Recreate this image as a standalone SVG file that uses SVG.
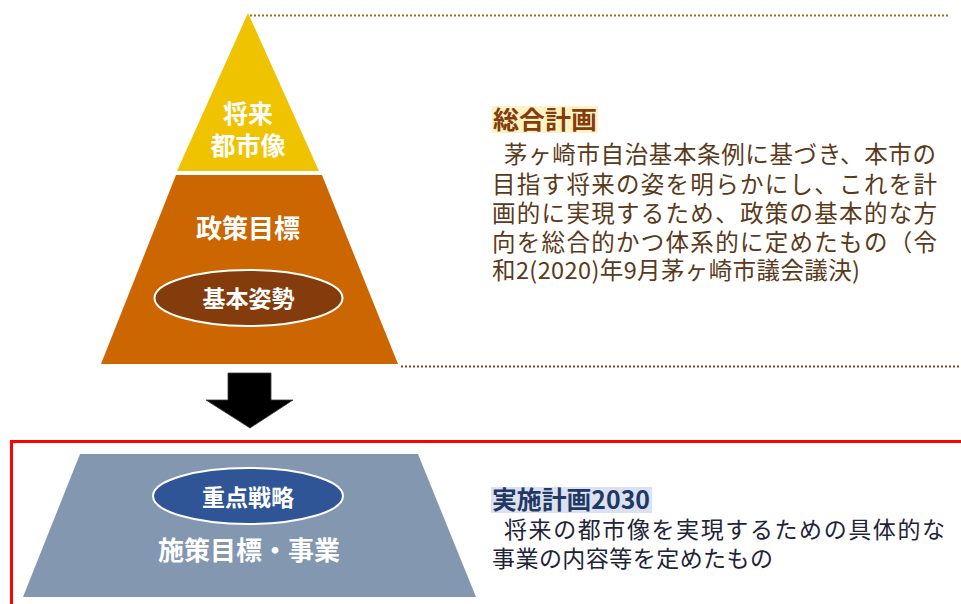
<svg xmlns="http://www.w3.org/2000/svg" width="961" height="604" viewBox="0 0 961 604">
<style>
text{font-family:"Noto Sans CJK JP","Noto Sans",sans-serif;}
.w{fill:#fff;font-weight:bold;text-anchor:middle;}
.body1{fill:#5A3A1A;font-size:23.5px;}
.body2{fill:#1E2438;font-size:23px;}
.dot{fill:none;stroke-width:2;stroke-dasharray:2 2;}
</style>
<rect width="961" height="604" fill="#fff"/>
<g id="guides">
<line class="dot" x1="250" y1="15.5" x2="949" y2="15.5" stroke="#8C7416"/>
<line class="dot" x1="401" y1="366.5" x2="961" y2="366.5" stroke="#8A4516"/>
</g>
<g id="vision">
<polygon points="248,13 319,171 177,171" fill="#F0C300"/>
<text class="w" x="248" y="123" font-size="25">将来</text>
<text class="w" x="248" y="155" font-size="25">都市像</text>
</g>
<g id="policy">
<polygon points="176,175 322,175 398,364 101,364" fill="#CC6600"/>
<text class="w" x="248" y="238" font-size="26">政策目標</text>
</g>
<g id="basic">
<ellipse cx="248.5" cy="298" rx="94" ry="28" fill="#843C0C" stroke="#fff" stroke-width="2"/>
<text class="w" x="248.5" y="307" font-size="23">基本姿勢</text>
</g>
<g id="connectors">
<polygon points="228,373 271,373 271,400 293,400 250,428 206,400 228,400" fill="#000" stroke="#3a3a3a" stroke-width="0.8"/>
</g>
<g id="frame">
<rect x="11.5" y="441.5" width="960" height="170" fill="none" stroke="#FF0000" stroke-width="3"/>
</g>
<g id="measures">
<polygon points="80,454 418,454 476,597 23,597" fill="#8497B0"/>
<text class="w" x="249" y="560" font-size="26">施策目標・事業</text>
</g>
<g id="priority">
<ellipse cx="248" cy="496" rx="95" ry="28" fill="#2F5597" stroke="#fff" stroke-width="2"/>
<text class="w" x="248" y="506" font-size="23">重点戦略</text>
</g>
<g id="general-plan">
<rect x="492" y="106" width="106" height="27" fill="#FFF3C4"/>
<text x="493" y="129" font-size="25" font-weight="bold" fill="#843C0C" textLength="104" lengthAdjust="spacingAndGlyphs">総合計画</text>
<text class="body1" x="504" y="163" textLength="432">茅ヶ崎市自治基本条例に基づき、本市の</text>
<text class="body1" x="492" y="193" textLength="445">目指す将来の姿を明らかにし、これを計</text>
<text class="body1" x="492" y="222" textLength="445">画的に実現するため、政策の基本的な方</text>
<text class="body1" x="492" y="251" textLength="445">向を総合的かつ体系的に定めたもの（令</text>
<text class="body1" x="492" y="279" textLength="368">和2(2020)年9月茅ヶ崎市議会議決)</text>
</g>
<g id="action-plan">
<rect x="491" y="487" width="161" height="26" fill="#DCE1F2"/>
<text x="492" y="509" font-size="25" font-weight="bold" fill="#1F3864" textLength="158" lengthAdjust="spacingAndGlyphs">実施計画2030</text>
<text class="body2" x="504" y="538" textLength="441">将来の都市像を実現するための具体的な</text>
<text class="body2" x="492" y="567" textLength="281">事業の内容等を定めたもの</text>
</g>
</svg>
